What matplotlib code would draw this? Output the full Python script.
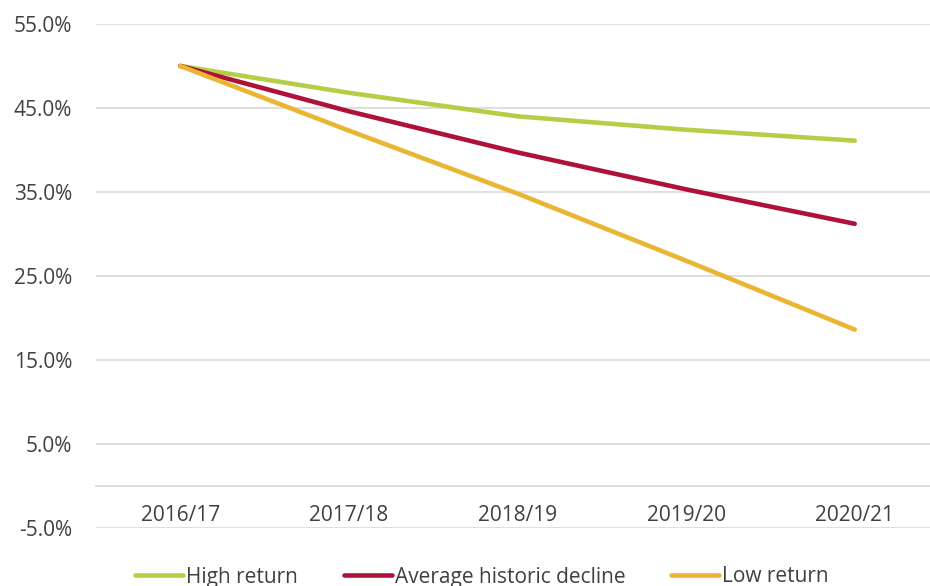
import numpy as np
import matplotlib
matplotlib.use("Agg")
import matplotlib.pyplot as plt

# data (percent)
years = ['2016/17', '2017/18', '2018/19', '2019/20', '2020/21']
high_return = [50.0, 46.8, 44.0, 42.4, 41.1]
avg_decline = [50.0, 44.6, 39.7, 35.3, 31.2]
low_return = [50.0, 42.3, 34.8, 26.8, 18.6]
y_ticks = [-5, 5, 15, 25, 35, 45, 55]

green = '#B4CE48'
red = '#AF1239'
yellow = '#EAB533'
grid_col = '#D9D9D9'
text_col = '#404040'

plt.rcParams['font.family'] = ['Open Sans', 'DejaVu Sans']

fig = plt.figure(figsize=(9.3, 5.86), dpi=100)
ax = fig.add_axes([0.1032, 0.0995, 0.9065, 0.8596])

x = np.arange(len(years))
ax.plot(x, high_return, color=green, lw=3.3, solid_capstyle='round', label='High return', zorder=3)
ax.plot(x, avg_decline, color=red, lw=3.3, solid_capstyle='round', label='Average historic decline', zorder=3)
ax.plot(x, low_return, color=yellow, lw=3.3, solid_capstyle='round', label='Low return', zorder=3)

ax.set_xlim(-0.5, len(years) - 0.5)
ax.set_ylim(-5, 55)
ax.set_yticks(y_ticks)
ax.set_yticklabels(['{:.1f}%'.format(v) for v in y_ticks])
ax.set_xticks(x)
ax.set_xticklabels(years)

ax.grid(axis='y', color=grid_col, lw=1.2, zorder=0)
for s in ['top', 'right', 'left']:
    ax.spines[s].set_visible(False)
ax.spines['bottom'].set_position(('data', 0))
ax.spines['bottom'].set_color(grid_col)
ax.spines['bottom'].set_linewidth(1.2)

ax.tick_params(axis='y', length=0, pad=17, labelsize=15, labelcolor=text_col)
ax.tick_params(axis='x', length=0, pad=14, labelsize=15, labelcolor=text_col)

fig.legend(loc='center', bbox_to_anchor=(482 / 930, 1 - 577 / 586), ncol=3,
           frameon=False, fontsize=15, handlelength=2.3, handletextpad=0.15,
           columnspacing=2.2, labelcolor=text_col)

fig.savefig('out.png', dpi=100)
